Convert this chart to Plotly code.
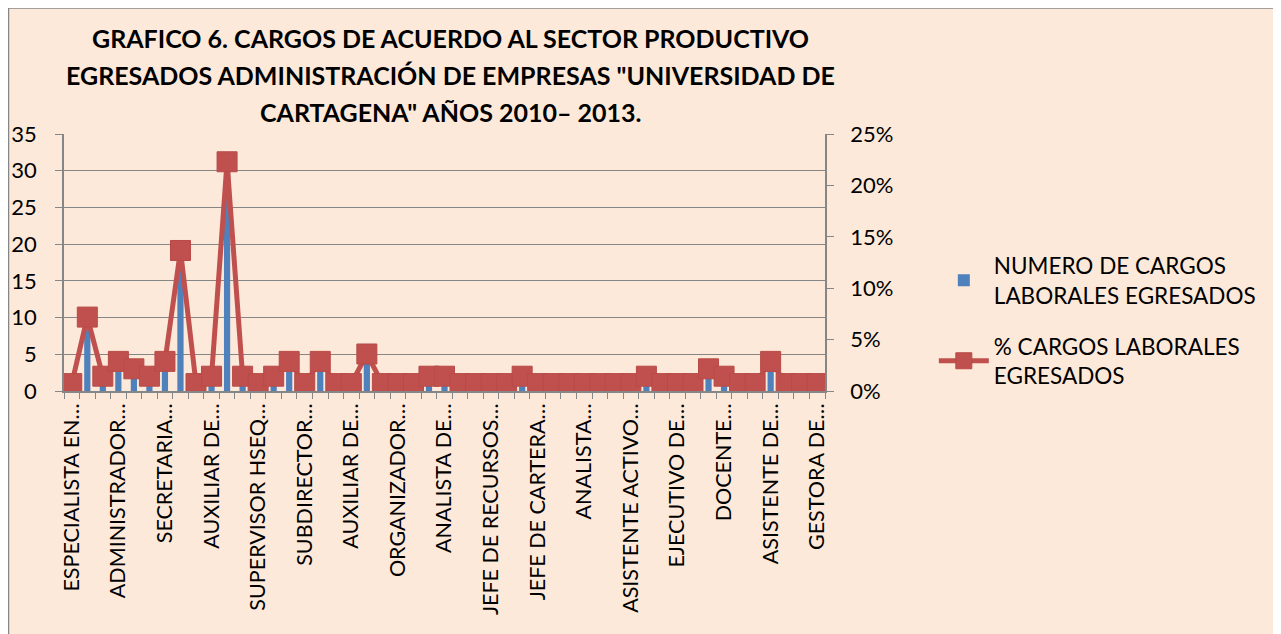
import plotly.graph_objects as go

FUENTE = "Lato"

# Etiquetas visibles del eje x (Excel muestra una de cada tres categorias)
cargos_visibles = [
    "ESPECIALISTA EN…", "ADMINISTRADOR…", "SECRETARIA…", "AUXILIAR DE…",
    "SUPERVISOR HSEQ…", "SUBDIRECTOR…", "AUXILIAR DE…", "ORGANIZADOR…",
    "ANALISTA DE…", "JEFE DE RECURSOS…", "JEFE DE CARTERA…", "ANALISTA…",
    "ASISTENTE ACTIVO…", "EJECUTIVO DE…", "DOCENTE…", "ASISTENTE DE…",
    "GESTORA DE…",
]

# Numero de cargos laborales por categoria (49 categorias)
numero_cargos = [
    1, 10, 2, 4, 3, 2, 4, 19, 1, 2, 31, 2,
    1, 2, 4, 1, 4, 1, 1, 5, 1, 1, 1, 2, 2,
    1, 1, 1, 1, 2, 1, 1, 1, 1, 1, 1, 1,
    2, 1, 1, 1, 3, 2, 1, 1, 4, 1, 1, 1,
]

# % cargos laborales egresados (fraccion)
pct_cargos = [
    0.0072, 0.0719, 0.0144, 0.0288, 0.0216, 0.0144, 0.0288, 0.1367, 0.0072, 0.0144, 0.2230, 0.0144,
    0.0072, 0.0144, 0.0288, 0.0072, 0.0288, 0.0072, 0.0072, 0.0360, 0.0072, 0.0072, 0.0072, 0.0144, 0.0144,
    0.0072, 0.0072, 0.0072, 0.0072, 0.0144, 0.0072, 0.0072, 0.0072, 0.0072, 0.0072, 0.0072, 0.0072,
    0.0144, 0.0072, 0.0072, 0.0072, 0.0216, 0.0144, 0.0072, 0.0072, 0.0288, 0.0072, 0.0072, 0.0072,
]

titulo = [
    "GRAFICO 6. CARGOS DE ACUERDO AL SECTOR PRODUCTIVO",
    "EGRESADOS ADMINISTRACIÓN DE EMPRESAS \"UNIVERSIDAD DE",
    "CARTAGENA\" AÑOS 2010– 2013.",
]

idx = list(range(len(numero_cargos)))
pos_etiquetas = idx[::3]

# la pagina tiene un margen de 8px, las posiciones estan en px de la figura
W, H = 1281, 634
ML, MR, MT, MB = 56, 464, 126, 251
GRIS = "#868686"
PW, PH = W - ML - MR, H - MT - MB

fig = go.Figure()
fig.add_trace(go.Bar(
    x=idx, y=numero_cargos, width=0.4, legendgroup="a",
    name="NUMERO DE CARGOS<br>LABORALES EGRESADOS",
    marker=dict(color="#4F81BD", line=dict(width=0)),
))
fig.add_trace(go.Scatter(
    x=idx, y=pct_cargos, yaxis="y2", mode="lines+markers", legendgroup="b",
    name="% CARGOS LABORALES<br>EGRESADOS",
    line=dict(color="#C0504D", width=5),
    marker=dict(symbol="square", size=20, color="#C0504D",
                line=dict(color="#B84A47", width=1)),
))

# fondo beige del area del grafico con borde gris
fig.add_shape(type="rect", xref="paper", yref="paper", layer="below",
              x0=(0.5 - ML) / PW, x1=(W + 20 - ML) / PW,
              y0=(H - MB - 660) / PH, y1=(H - MB - 0) / PH,
              fillcolor="#FDE9D9", line=dict(color=GRIS, width=1.5))

for linea, ypx in zip(titulo, [30, 67, 104]):
    fig.add_annotation(text="<b>%s</b>" % linea, xref="paper", yref="paper",
                       x=(442 - ML) / PW, y=(H - MB - ypx) / PH,
                       xanchor="center", yanchor="middle", showarrow=False,
                       font=dict(family=FUENTE, size=25, color="#000000"))

fig.update_layout(
    width=W, height=H,
    margin=dict(l=ML, r=MR, t=MT, b=MB, pad=0, autoexpand=False),
    paper_bgcolor="white", plot_bgcolor="white",
    font=dict(family=FUENTE, size=21, color="#000000"),
    showlegend=True,
    legend=dict(x=1.143, y=0.57, xanchor="left", yanchor="top",
                bgcolor="rgba(0,0,0,0)", itemwidth=50,
                font=dict(family=FUENTE, size=22.5), tracegroupgap=19),
    xaxis=dict(range=[-0.5, len(idx) - 0.5], tickmode="array",
               tickvals=pos_etiquetas, ticktext=cargos_visibles,
               tickangle=-90, ticks="", showgrid=False, zeroline=False,
               showline=True, linecolor=GRIS, linewidth=1.5,
               minor=dict(tick0=-0.5, dtick=1, ticks="outside", ticklen=6,
                          tickcolor=GRIS, showgrid=False),
               ticklabelstandoff=2, tickfont=dict(size=21.5), automargin=False),
    yaxis=dict(range=[0, 35], dtick=5, showgrid=True, gridcolor=GRIS,
               gridwidth=1.2, zeroline=False, showline=True, linecolor=GRIS,
               linewidth=1.5, ticks="outside", ticklen=7, tickcolor=GRIS,
               ticklabelstandoff=14, tickfont=dict(size=22), automargin=False),
    yaxis2=dict(range=[0, 0.25], dtick=0.05, tickformat=".0%", overlaying="y",
                side="right", showgrid=False, zeroline=False, showline=True,
                linecolor=GRIS, linewidth=1.5, ticks="outside", ticklen=7,
                tickcolor=GRIS, ticklabelstandoff=12, tickfont=dict(size=22),
                automargin=False),
)

fig.write_html("out.html")
